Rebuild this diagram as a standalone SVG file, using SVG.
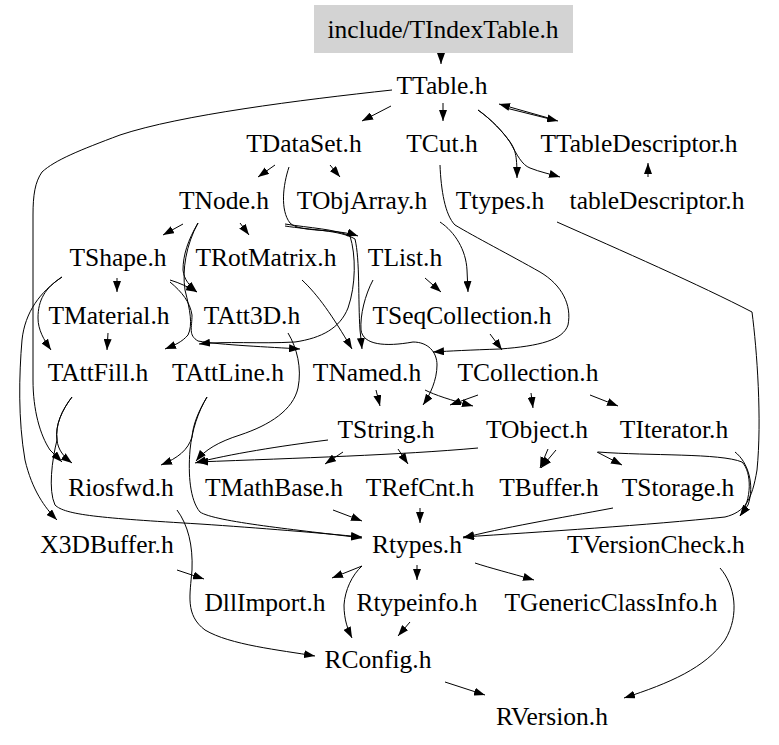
<svg xmlns="http://www.w3.org/2000/svg" width="779" height="745" viewBox="0 0 779 745">
<style>
text{font-family:"Liberation Serif","Times New Roman",serif;font-size:25.5px;fill:#000;text-anchor:middle}
.e{fill:none;stroke:#000;stroke-width:1;marker-end:url(#ah)}
.l{fill:none;stroke:#000;stroke-width:1}
</style>
<defs>
<marker id="ah" viewBox="0 0 11 8" refX="11" refY="4" markerWidth="11" markerHeight="8" markerUnits="userSpaceOnUse" orient="auto">
<path d="M0,0 L11,4 L0,8 z" fill="#000"/>
</marker>
</defs>
<rect width="779" height="745" fill="#fff"/>
<g id="nodes">
<g id="n_root"><rect x="314" y="5" width="259" height="48" fill="#d3d3d3"/><text x="443" y="38">include/TIndexTable.h</text></g>
<g id="n_TTable"><text x="442" y="94">TTable.h</text></g>
<g id="n_TDataSet"><text x="304" y="152">TDataSet.h</text></g>
<g id="n_TCut"><text x="442" y="152">TCut.h</text></g>
<g id="n_TTableDescriptor"><text x="639" y="152">TTableDescriptor.h</text></g>
<g id="n_TNode"><text x="224" y="209">TNode.h</text></g>
<g id="n_TObjArray"><text x="362" y="209">TObjArray.h</text></g>
<g id="n_Ttypes"><text x="500" y="209">Ttypes.h</text></g>
<g id="n_tableDescriptor"><text x="657" y="209">tableDescriptor.h</text></g>
<g id="n_TShape"><text x="118" y="266">TShape.h</text></g>
<g id="n_TRotMatrix"><text x="266" y="266">TRotMatrix.h</text></g>
<g id="n_TList"><text x="405" y="266">TList.h</text></g>
<g id="n_TMaterial"><text x="109" y="324">TMaterial.h</text></g>
<g id="n_TAtt3D"><text x="252" y="324">TAtt3D.h</text></g>
<g id="n_TSeqCollection"><text x="462" y="324">TSeqCollection.h</text></g>
<g id="n_TAttFill"><text x="98" y="381">TAttFill.h</text></g>
<g id="n_TAttLine"><text x="228" y="381">TAttLine.h</text></g>
<g id="n_TNamed"><text x="367" y="381">TNamed.h</text></g>
<g id="n_TCollection"><text x="528" y="381">TCollection.h</text></g>
<g id="n_TString"><text x="386" y="438">TString.h</text></g>
<g id="n_TObject"><text x="537" y="438">TObject.h</text></g>
<g id="n_TIterator"><text x="674" y="438">TIterator.h</text></g>
<g id="n_Riosfwd"><text x="121" y="496">Riosfwd.h</text></g>
<g id="n_TMathBase"><text x="274" y="496">TMathBase.h</text></g>
<g id="n_TRefCnt"><text x="420" y="496">TRefCnt.h</text></g>
<g id="n_TBuffer"><text x="549" y="496">TBuffer.h</text></g>
<g id="n_TStorage"><text x="678" y="496">TStorage.h</text></g>
<g id="n_X3DBuffer"><text x="107" y="553">X3DBuffer.h</text></g>
<g id="n_Rtypes"><text x="417" y="553">Rtypes.h</text></g>
<g id="n_TVersionCheck"><text x="656" y="553">TVersionCheck.h</text></g>
<g id="n_DllImport"><text x="265" y="611">DllImport.h</text></g>
<g id="n_Rtypeinfo"><text x="417" y="611">Rtypeinfo.h</text></g>
<g id="n_TGenericClassInfo"><text x="611" y="611">TGenericClassInfo.h</text></g>
<g id="n_RConfig"><text x="378" y="668">RConfig.h</text></g>
<g id="n_RVersion"><text x="552" y="725">RVersion.h</text></g>
</g>
<g id="edges">
<path class="e" d="M441,53 L441,64"/>
<path class="e" d="M391,106 L362,121"/>
<path class="e" d="M443,103 L443,121"/>
<path class="e" d="M506,108 L558,121"/>
<path class="e" d="M552,119 L499,104"/>
<path class="e" d="M478,110 C492,120 503,132 510,142 C516,150 517,158 517,178"/>
<path class="e" d="M478,110 C492,120 503,132 510,142 C517,155 522,165 530,168 C540,172 550,174 560,177"/>
<path class="e" d="M648,177 L648,163"/>
<path class="e" d="M392,90 C300,100 180,115 120,135 C80,150 55,160 42,172 C35,182 33,195 33,215 L33,380 C33,410 40,435 50,450 L62,462"/>
<path class="e" d="M275,165 L258,177"/>
<path class="e" d="M330,165 L340,177"/>
<path class="e" d="M289,167 C283,185 280,210 290,223 C300,233 335,228 358,236"/>
<path class="e" d="M183,224 L163,235"/>
<path class="e" d="M240,223 L249,235"/>
<path class="e" d="M198,223 C188,240 183,255 183,270 C184,280 190,286 197,292"/>
<path class="e" d="M198,223 C186,245 182,270 185,290 C190,310 193,325 188,335 C182,342 175,345 165,349"/>
<path class="e" d="M62,277 C45,288 38,300 38,318 C38,330 44,340 51,350"/>
<path class="e" d="M62,277 C40,292 25,312 22,340 C19,375 18,420 25,460 C32,490 45,508 57,520"/>
<path class="e" d="M117,278 L117,292"/>
<path class="e" d="M108,333 L107,350"/>
<path class="e" d="M170,280 C180,283 188,287 197,292"/>
<path class="e" d="M170,282 C182,292 190,302 192,315 C192,328 188,335 198,341 C220,345 270,347 300,349"/>
<path class="e" d="M285,224 C310,228 335,229 350,236 C356,255 356,285 348,308 C340,328 322,338 295,342 C260,344 225,341 199,344"/>
<path class="e" d="M285,226 C310,230 340,230 355,239 C360,260 358,300 360,330 L362,349"/>
<path class="e" d="M302,280 C318,295 332,315 352,349"/>
<path class="e" d="M288,333 C297,348 302,368 298,388 C293,410 270,425 240,435 C218,442 205,450 196,461"/>
<path class="e" d="M373,280 C365,295 360,315 361,330 C363,345 385,347 413,342 C428,342 437,352 437,365 C437,380 430,395 423,405"/>
<path class="e" d="M425,278 L441,292"/>
<path class="e" d="M440,222 C455,232 466,250 467,270 L468,292"/>
<path class="e" d="M440,165 C441,190 445,215 455,225 C475,237 510,255 540,272 C562,285 572,305 568,325 C563,340 540,346 500,349 C470,350 450,351 433,352"/>
<path class="e" d="M490,334 L502,350"/>
<path class="e" d="M557,222 C620,250 700,285 752,312 C757,350 762,420 757,470 C752,500 745,512 725,517 C650,525 540,532 463,537"/>
<path class="e" d="M376,390 L380,406"/>
<path class="e" d="M425,390 C435,395 450,400 473,406"/>
<path class="e" d="M478,395 L450,405"/>
<path class="e" d="M531,393 L533,408"/>
<path class="e" d="M590,395 L618,406"/>
<path class="e" d="M72,397 C62,410 55,425 57,440 C58,450 64,457 72,463"/>
<path class="e" d="M72,397 C62,410 55,425 57,440 C52,460 48,490 55,505 C65,515 100,518 200,524 C260,528 320,533 362,537"/>
<path class="e" d="M207,397 C198,412 193,425 192,437 C188,450 178,458 161,465"/>
<path class="e" d="M207,397 C198,412 192,430 190,450 C188,475 190,500 200,512 C215,522 300,530 362,538"/>
<path class="e" d="M343,452 L325,464"/>
<path class="e" d="M398,449 L408,464"/>
<path class="e" d="M328,440 C280,446 230,454 195,463"/>
<path class="e" d="M478,448 C400,455 300,458 197,462"/>
<path class="e" d="M556,450 L541,468"/>
<path class="e" d="M548,449 L540,468"/>
<path class="e" d="M597,452 L622,465"/>
<path class="e" d="M598,452 C650,456 720,453 742,462 C752,472 752,500 740,516"/>
<path class="e" d="M735,452 C748,462 755,485 748,505 L740,516"/>
<path class="e" d="M613,508 C560,518 500,528 463,538"/>
<path class="e" d="M333,510 L362,521"/>
<path class="e" d="M420,508 L420,523"/>
<path class="e" d="M177,510 C188,525 193,545 192,570 C190,595 185,615 205,630 C230,645 280,650 315,656"/>
<path class="e" d="M177,570 L204,579"/>
<path class="e" d="M362,566 L332,578"/>
<path class="e" d="M362,566 C352,575 345,590 344,605 C344,620 348,630 352,638"/>
<path class="e" d="M417,565 L417,580"/>
<path class="e" d="M475,563 C490,568 510,573 534,580"/>
<path class="e" d="M410,622 L398,636"/>
<path class="e" d="M445,682 L485,695"/>
<path class="e" d="M720,568 C735,585 740,615 725,640 C705,668 670,683 624,698"/>
</g>
</svg>
